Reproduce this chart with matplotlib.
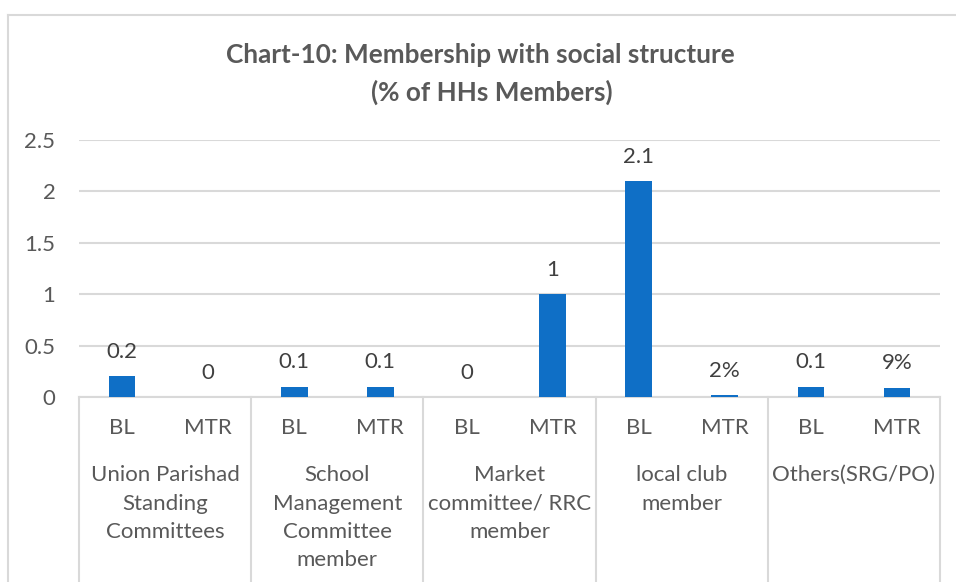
import matplotlib
matplotlib.use("Agg")
import matplotlib.pyplot as plt
import matplotlib.transforms as mtransforms
from matplotlib.lines import Line2D
import numpy as np

# ---- data -------------------------------------------------------------
groups = [
    "Union Parishad\nStanding\nCommittees",
    "School\nManagement\nCommittee\nmember",
    "Market\ncommittee/ RRC\nmember",
    "local club\nmember",
    "Others(SRG/PO)",
]
periods = ["BL", "MTR"]
bl_values = [0.2, 0.1, 0.0, 2.1, 0.1]
mtr_values = [0.0, 0.1, 1.0, 0.02, 0.09]
# how each value is printed above its bar
mtr_formats = ["num", "num", "num", "pct", "pct"]
bl_formats = ["num", "num", "num", "num", "num"]
y_ticks = [0, 0.5, 1, 1.5, 2, 2.5]
title = "Chart-10: Membership with social structure\n(% of HHs Members)"

# ---- style ------------------------------------------------------------
W, H, DPI = 956, 582, 100
FONT = "Lato"
BAR = "#0F6FC6"
GRID = "#D9D9D9"
TXT = "#595959"
LBL = "#404040"
FS = 16
plt.rcParams["font.family"] = [FONT, "DejaVu Sans"]

fig = plt.figure(figsize=(W / DPI, H / DPI), dpi=DPI)
fig.patch.set_facecolor("white")

# plot area in pixels
left, right, top, bottom = 79, 940, 140, 397
ax = fig.add_axes([left / W, 1 - bottom / H, (right - left) / W, (bottom - top) / H])

def fmt(v, kind):
    return f"{v:.0%}" if kind == "pct" else f"{v:g}"

values, labels = [], []
for b, m, fb, fm in zip(bl_values, mtr_values, bl_formats, mtr_formats):
    values += [b, m]
    labels += [fmt(b, fb), fmt(m, fm)]

x = np.arange(len(values))
ax.bar(x, values, width=0.31, color=BAR, zorder=3)
for xi, v, s in zip(x, values, labels):
    ax.annotate(s, (xi, v), xytext=(0, 17.5), textcoords="offset points",
                ha="center", va="center", fontsize=FS, color=LBL)

ax.set_xlim(-0.5, len(values) - 0.5)
ax.set_ylim(0, 2.5)
ax.set_yticks(y_ticks)
ax.set_yticklabels([f"{t:g}" for t in y_ticks])
ax.tick_params(axis="y", length=0, pad=17, labelsize=FS, labelcolor=TXT)
ax.set_xticks([])
ax.grid(axis="y", color=GRID, linewidth=1.5, zorder=0)
for sp in ["top", "right", "left"]:
    ax.spines[sp].set_visible(False)
ax.spines["bottom"].set_color(GRID)
ax.spines["bottom"].set_linewidth(1.5)

# multi-level category axis
trans = mtransforms.blended_transform_factory(ax.transData, ax.transAxes)
axh = bottom - top
def ay(py):
    return (bottom - py) / axh

for k in range(len(groups) + 1):
    xs = k * len(periods) - 0.5
    ax.add_line(Line2D([xs, xs], [0, ay(H + 5)], transform=trans, color=GRID,
                       linewidth=1.5, clip_on=False))

for xi in x:
    ax.text(xi, ay(428), periods[xi % len(periods)], transform=trans,
            ha="center", va="center", fontsize=FS, color=TXT)

line_step = 28.5
for g, name in enumerate(groups):
    xc = g * len(periods) + (len(periods) - 1) / 2
    for j, line in enumerate(name.split("\n")):
        ax.text(xc, ay(475 + j * line_step), line, transform=trans,
                ha="center", va="center", fontsize=FS, color=TXT)

# title
t1, t2 = title.split("\n")
fig.text(480 / W, 1 - 55 / H, t1, ha="center", va="center",
         fontsize=18.8, fontweight="bold", color=TXT)
fig.text(492 / W, 1 - 92 / H, t2, ha="center", va="center",
         fontsize=18.8, fontweight="bold", color=TXT)

# chart frame (left and top edges)
fig.add_artist(Line2D([8 / W, 8 / W], [0, 1 - 15 / H], color=GRID, linewidth=1.5))
fig.add_artist(Line2D([8 / W, 1], [1 - 15 / H, 1 - 15 / H], color=GRID, linewidth=1.5))

fig.savefig("out.png", dpi=DPI)
